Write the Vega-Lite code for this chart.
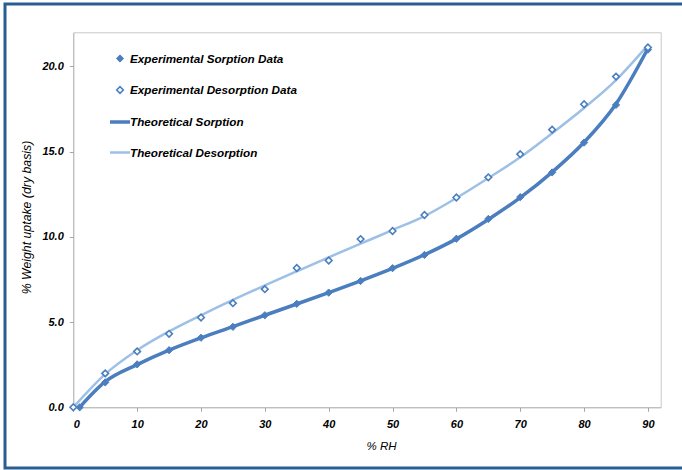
{
  "$schema": "https://vega.github.io/schema/vega-lite/v6.json",
  "width": 685,
  "height": 464,
  "autosize": {"type": "none"},
  "padding": {"left": 5, "top": 4, "right": 0, "bottom": 2},
  "background": "white",
  "data": {
    "values": [
      {"series": "Experimental Sorption Data", "rh": 1, "uptake": 0},
      {"series": "Experimental Sorption Data", "rh": 5, "uptake": 1.46},
      {"series": "Experimental Sorption Data", "rh": 10, "uptake": 2.52},
      {"series": "Experimental Sorption Data", "rh": 15, "uptake": 3.35},
      {"series": "Experimental Sorption Data", "rh": 20, "uptake": 4.08},
      {"series": "Experimental Sorption Data", "rh": 25, "uptake": 4.72},
      {"series": "Experimental Sorption Data", "rh": 30, "uptake": 5.4},
      {"series": "Experimental Sorption Data", "rh": 35, "uptake": 6.07},
      {"series": "Experimental Sorption Data", "rh": 40, "uptake": 6.73},
      {"series": "Experimental Sorption Data", "rh": 45, "uptake": 7.41},
      {"series": "Experimental Sorption Data", "rh": 50, "uptake": 8.16},
      {"series": "Experimental Sorption Data", "rh": 55, "uptake": 8.94},
      {"series": "Experimental Sorption Data", "rh": 60, "uptake": 9.89},
      {"series": "Experimental Sorption Data", "rh": 65, "uptake": 11.05},
      {"series": "Experimental Sorption Data", "rh": 70, "uptake": 12.33},
      {"series": "Experimental Sorption Data", "rh": 75, "uptake": 13.78},
      {"series": "Experimental Sorption Data", "rh": 80, "uptake": 15.53},
      {"series": "Experimental Sorption Data", "rh": 85, "uptake": 17.74},
      {"series": "Experimental Sorption Data", "rh": 90, "uptake": 20.98},
      {"series": "Experimental Desorption Data", "rh": 0, "uptake": 0},
      {"series": "Experimental Desorption Data", "rh": 5, "uptake": 1.99},
      {"series": "Experimental Desorption Data", "rh": 10, "uptake": 3.28},
      {"series": "Experimental Desorption Data", "rh": 15, "uptake": 4.31},
      {"series": "Experimental Desorption Data", "rh": 20, "uptake": 5.27},
      {"series": "Experimental Desorption Data", "rh": 25, "uptake": 6.11},
      {"series": "Experimental Desorption Data", "rh": 30, "uptake": 6.93},
      {"series": "Experimental Desorption Data", "rh": 35, "uptake": 8.17},
      {"series": "Experimental Desorption Data", "rh": 40, "uptake": 8.61},
      {"series": "Experimental Desorption Data", "rh": 45, "uptake": 9.87},
      {"series": "Experimental Desorption Data", "rh": 50, "uptake": 10.34},
      {"series": "Experimental Desorption Data", "rh": 55, "uptake": 11.28},
      {"series": "Experimental Desorption Data", "rh": 60, "uptake": 12.31},
      {"series": "Experimental Desorption Data", "rh": 65, "uptake": 13.49},
      {"series": "Experimental Desorption Data", "rh": 70, "uptake": 14.85},
      {"series": "Experimental Desorption Data", "rh": 75, "uptake": 16.29},
      {"series": "Experimental Desorption Data", "rh": 80, "uptake": 17.78},
      {"series": "Experimental Desorption Data", "rh": 85, "uptake": 19.4},
      {"series": "Experimental Desorption Data", "rh": 90, "uptake": 21.11},
      {"series": "Theoretical Sorption", "rh": 1, "uptake": 0},
      {"series": "Theoretical Sorption", "rh": 5, "uptake": 1.5},
      {"series": "Theoretical Sorption", "rh": 10, "uptake": 2.5},
      {"series": "Theoretical Sorption", "rh": 15, "uptake": 3.35},
      {"series": "Theoretical Sorption", "rh": 20, "uptake": 4.07},
      {"series": "Theoretical Sorption", "rh": 25, "uptake": 4.73},
      {"series": "Theoretical Sorption", "rh": 30, "uptake": 5.4},
      {"series": "Theoretical Sorption", "rh": 35, "uptake": 6.06},
      {"series": "Theoretical Sorption", "rh": 40, "uptake": 6.73},
      {"series": "Theoretical Sorption", "rh": 45, "uptake": 7.42},
      {"series": "Theoretical Sorption", "rh": 50, "uptake": 8.15},
      {"series": "Theoretical Sorption", "rh": 55, "uptake": 8.95},
      {"series": "Theoretical Sorption", "rh": 60, "uptake": 9.88},
      {"series": "Theoretical Sorption", "rh": 65, "uptake": 11.02},
      {"series": "Theoretical Sorption", "rh": 70, "uptake": 12.3},
      {"series": "Theoretical Sorption", "rh": 75, "uptake": 13.8},
      {"series": "Theoretical Sorption", "rh": 80, "uptake": 15.55},
      {"series": "Theoretical Sorption", "rh": 85, "uptake": 17.8},
      {"series": "Theoretical Sorption", "rh": 90, "uptake": 21.05},
      {"series": "Theoretical Desorption", "rh": 0, "uptake": 0},
      {"series": "Theoretical Desorption", "rh": 5, "uptake": 1.95},
      {"series": "Theoretical Desorption", "rh": 10, "uptake": 3.35},
      {"series": "Theoretical Desorption", "rh": 15, "uptake": 4.45},
      {"series": "Theoretical Desorption", "rh": 20, "uptake": 5.4},
      {"series": "Theoretical Desorption", "rh": 25, "uptake": 6.3},
      {"series": "Theoretical Desorption", "rh": 30, "uptake": 7.15},
      {"series": "Theoretical Desorption", "rh": 35, "uptake": 7.98},
      {"series": "Theoretical Desorption", "rh": 40, "uptake": 8.8},
      {"series": "Theoretical Desorption", "rh": 45, "uptake": 9.6},
      {"series": "Theoretical Desorption", "rh": 50, "uptake": 10.4},
      {"series": "Theoretical Desorption", "rh": 55, "uptake": 11.22},
      {"series": "Theoretical Desorption", "rh": 60, "uptake": 12.28},
      {"series": "Theoretical Desorption", "rh": 65, "uptake": 13.45},
      {"series": "Theoretical Desorption", "rh": 70, "uptake": 14.67},
      {"series": "Theoretical Desorption", "rh": 75, "uptake": 16.08},
      {"series": "Theoretical Desorption", "rh": 80, "uptake": 17.56},
      {"series": "Theoretical Desorption", "rh": 85, "uptake": 19.2},
      {"series": "Theoretical Desorption", "rh": 90, "uptake": 21.25}
    ]
  },
  "layer": [
    {
      "transform": [{"filter": "indexof(datum.series, 'Theoretical') === 0"}],
      "mark": {"type": "line", "interpolate": "monotone"},
      "encoding": {
        "x": {
          "field": "rh", "type": "quantitative",
          "scale": {"domain": [0, 92], "range": [68.3, 655.7], "nice": false, "zero": false},
          "axis": {
            "orient": "bottom", "offset": -60.7, "title": "% RH",
            "values": [0, 10, 20, 30, 40, 50, 60, 70, 80, 90],
            "domainColor": "#A6A6A6", "tickColor": "#A6A6A6", "tickSize": 4,
            "labelPadding": 7, "labelFontSize": 11, "labelFontWeight": "bold", "labelFontStyle": "italic",
            "labelColor": "#000000", "labelFont": "Liberation Sans",
            "titleFont": "Liberation Sans", "titleFontSize": 11.5, "titleFontStyle": "italic", "titleFontWeight": "normal",
            "titleColor": "#000000", "titleX": 376, "titleY": 39.5, "titleAlign": "center", "titleBaseline": "middle",
            "grid": false
          }
        },
        "y": {
          "field": "uptake", "type": "quantitative",
          "scale": {"domain": [0, 22], "range": [403.3, 28.3], "nice": false, "zero": false},
          "axis": {
            "orient": "left", "offset": -68.3, "title": "% Weight uptake (dry basis)",
            "values": [0, 5, 10, 15, 20], "format": ".1f",
            "domainColor": "#A6A6A6", "tickColor": "#A6A6A6", "tickSize": 4,
            "labelPadding": 6, "labelFontSize": 11, "labelFontWeight": "bold", "labelFontStyle": "italic",
            "labelColor": "#000000", "labelFont": "Liberation Sans",
            "titleFont": "Liberation Sans", "titleFontSize": 12.3, "titleFontStyle": "italic", "titleFontWeight": "normal",
            "titleColor": "#000000", "titleX": -47.3, "titleY": 213, "titleAngle": -90, "titleAlign": "center", "titleBaseline": "middle",
            "grid": false
          }
        },
        "stroke": {
          "field": "series", "type": "nominal", "title": null,
          "scale": {
            "domain": ["Experimental Sorption Data", "Experimental Desorption Data", "Theoretical Sorption", "Theoretical Desorption"],
            "range": ["#4A7EBF", "#4A7EBF", "#4A7EBF", "#9DC0E6"]
          }
        },
        "strokeWidth": {
          "field": "series", "type": "nominal", "title": null,
          "scale": {
            "type": "ordinal",
            "domain": ["Experimental Sorption Data", "Experimental Desorption Data", "Theoretical Sorption", "Theoretical Desorption"],
            "range": [1, 1.6, 3.5, 2.5]
          }
        }
      }
    },
    {
      "transform": [{"filter": "indexof(datum.series, 'Experimental') === 0"}],
      "mark": {"type": "point", "filled": true, "opacity": 1, "size": 400},
      "encoding": {
        "x": {
          "field": "rh", "type": "quantitative",
          "axis": {"orient": "top", "offset": -28.3, "domainColor": "#C8C8C8", "labels": false, "ticks": false, "title": null, "grid": false}
        },
        "y": {
          "field": "uptake", "type": "quantitative",
          "axis": {"orient": "right", "offset": -29.3, "domainColor": "#C8C8C8", "labels": false, "ticks": false, "title": null, "grid": false}
        },
        "shape": {
          "field": "series", "type": "nominal", "title": null,
          "scale": {
            "domain": ["Experimental Sorption Data", "Experimental Desorption Data", "Theoretical Sorption", "Theoretical Desorption"],
            "range": ["M-0.36,0L0,-0.36L0.36,0L0,0.36Z", "M-0.33,0L0,-0.33L0.33,0L0,0.33Z", "stroke", "stroke"]
          }
        },
        "fill": {
          "field": "series", "type": "nominal", "title": null,
          "scale": {
            "domain": ["Experimental Sorption Data", "Experimental Desorption Data", "Theoretical Sorption", "Theoretical Desorption"],
            "range": ["#4A7EBF", "#FFFFFF", "#4A7EBF", "#9DC0E6"]
          }
        },
        "stroke": {
          "field": "series", "type": "nominal", "title": null,
          "scale": {
            "domain": ["Experimental Sorption Data", "Experimental Desorption Data", "Theoretical Sorption", "Theoretical Desorption"],
            "range": ["#4A7EBF", "#4A7EBF", "#4A7EBF", "#9DC0E6"]
          }
        },
        "strokeWidth": {
          "field": "series", "type": "nominal", "title": null,
          "scale": {
            "type": "ordinal",
            "domain": ["Experimental Sorption Data", "Experimental Desorption Data", "Theoretical Sorption", "Theoretical Desorption"],
            "range": [1, 1.6, 3.5, 2.5]
          }
        }
      }
    }
  ],
  "resolve": {"axis": {"x": "independent", "y": "independent"}},
  "config": {
    "view": {"stroke": "#2A5D92", "strokeWidth": 3, "fill": "white"},
    "legend": {
      "orient": "none", "legendX": 103, "legendY": 44, "padding": 0,
      "gridAlign": "all", "rowPadding": 12, "labelOffset": -2, "symbolSize": 400,
      "labelFont": "Liberation Sans", "labelFontSize": 11.7, "labelFontWeight": "bold", "labelFontStyle": "italic",
      "labelColor": "#000000", "labelLimit": 300
    }
  }
}
